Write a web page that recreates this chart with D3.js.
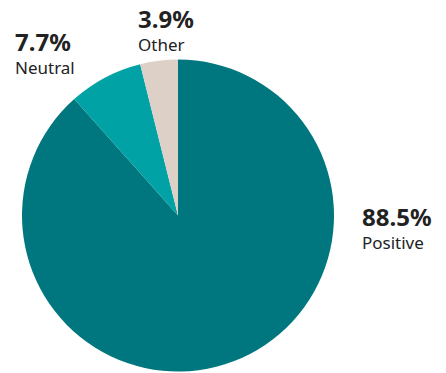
<!DOCTYPE html>
<html>
<head>
<meta charset="utf-8">
<script src="https://cdn.jsdelivr.net/npm/d3@7"></script>
<style>
	body { margin: 0; background: #fff; }
	text { font-family: "Noto Sans", "Open Sans", sans-serif; fill: #222; }
</style>
</head>
<body>
<div id="chart"></div>
<script>
const categories = ['Positive', 'Neutral', 'Other'];
const values = [88.5, 7.7, 3.9];
const colors = ['#00777e', '#00a2a5', '#ddd1c7'];
// label anchor (left edge, baseline of the percent line)
const labelPos = [[362, 226], [15, 51], [138, 28]];

const width = 446, height = 373;
const cx = 178, cy = 215.5, radius = 156;

const svg = d3.select('#chart').append('svg')
	.attr('width', width)
	.attr('height', height);

const pie = d3.pie().sort(null).value(d => d)(values);
const arc = d3.arc().innerRadius(0).outerRadius(radius);

svg.append('g')
	.attr('transform', 'translate(' + cx + ',' + cy + ')')
	.selectAll('path')
	.data(pie)
	.enter()
	.append('path')
	.attr('d', arc)
	.attr('fill', (d, i) => colors[i]);

let labels = svg.selectAll('.lbl')
	.data(categories)
	.enter()
	.append('g')
	.attr('class', 'lbl')
	.attr('transform', (d, i) => 'translate(' + labelPos[i][0] + ',' + labelPos[i][1] + ')');

labels.append('text')
	.attr('font-size', 24)
	.attr('font-weight', 'bold')
	.text((d, i) => values[i].toFixed(1) + '%');

labels.append('text')
	.attr('y', 23)
	.attr('font-size', 17)
	.text(d => d);
</script>
</body>
</html>
